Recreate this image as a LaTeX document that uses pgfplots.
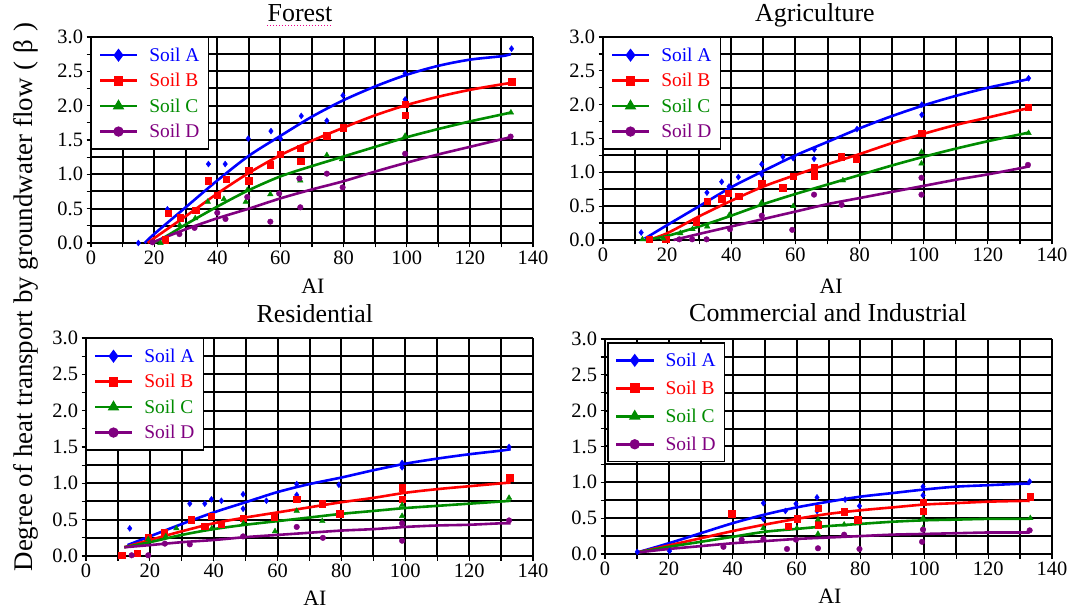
\documentclass[border=0pt]{standalone}
\usepackage{fontspec}
\setmainfont{Liberation Serif}
\usepackage{pgfplots}
\pgfplotsset{compat=1.18}

\definecolor{soilA}{RGB}{0,0,255}
\definecolor{soilB}{RGB}{255,0,0}
\definecolor{soilC}{RGB}{0,140,0}
\definecolor{soilD}{RGB}{128,0,128}

\newcommand{\soil}[2]{\textcolor{#1}{Soil #2}\hspace{12bp}}

\pgfplotsset{
  panel/.style={
    scale only axis, clip=false,
    xmin=0, xmax=140, ymin=0, ymax=3, enlargelimits=false,
    axis x line*=bottom, axis y line*=left,
    x axis line style={black,line width=2bp},
    y axis line style={black,line width=2.2bp},
    xtick={0,10,20,30,40,50,60,70,80,90,100,110,120,130},
    xticklabels={0,,20,,40,,60,,80,,100,,120,},
    extra x ticks={140},
    extra x tick labels={140},
    extra x tick style={grid style={gray!55,line width=1bp}},
    xmajorgrids=true, ymajorgrids=true,
    major grid style={black,line width=2bp},
    tick align=outside, major tick length=4.5bp,
    tick style={black,line width=1.2bp},
    /pgf/number format/assume math mode=true,
    ticklabel style={font=\fontsize{20.5}{24}\selectfont},
    title style={font=\fontsize{26}{30}\selectfont, anchor=base, inner sep=0pt, yshift=10bp},
    xlabel={AI},
    xlabel style={font=\fontsize{22}{26}\selectfont, anchor=base},
    legend cell align=left,
    legend style={at={(0,1)}, anchor=north west, draw=black, line width=1.4bp,
      fill=white, font=\fontsize{19.5}{23}\selectfont,
      inner xsep=7bp, inner ysep=8bp, row sep=6.5bp,
      /tikz/every odd column/.append style={column sep=9bp}},
    legend image code/.code={\draw[mark repeat=2,mark phase=2]
      plot coordinates {(0bp,0bp) (18.5bp,0bp) (37bp,0bp)};},
  },
  toprow/.style={panel,
    ytick={0,0.25,0.5,0.75,1,1.25,1.5,1.75,2,2.25,2.5,2.75,3},
    yticklabels={0.0,,0.5,,1.0,,1.5,,2.0,,2.5,,3.0}},
  bottomrow/.style={panel,
    ytick={0,0.25,0.5,0.75,1,1.25,1.5,1.75,2,2.25,2.5,2.75},
    yticklabels={0.0,,0.5,,1.0,,1.5,,2.0,,2.5,},
    extra y ticks={3}, extra y tick labels={3.0},
    extra y tick style={grid style={gray!55,line width=1bp}}},
  % fitted curves (marks only appear in the legend)
  fitA/.style={soilA, line width=2.6bp, smooth, mark=diamond*, mark size=4.5bp, mark phase=1000},
  fitB/.style={soilB, line width=2.6bp, smooth, mark=square*, mark size=3.6bp, mark phase=1000},
  fitC/.style={soilC, line width=2.6bp, smooth, mark=triangle*, mark size=4.2bp, mark phase=1000},
  fitD/.style={soilD, line width=2.6bp, smooth, mark=*, mark size=3.8bp, mark phase=1000},
  % measured values
  obsA/.style={forget plot, only marks, soilA, mark=diamond*, mark size=3bp},
  obsB/.style={forget plot, only marks, soilB, mark=square*, mark size=3.2bp},
  obsC/.style={forget plot, only marks, soilC, mark=triangle*, mark size=3.2bp},
  obsD/.style={forget plot, only marks, soilD, mark=*, mark size=2.8bp},
}

\begin{document}
\begin{tikzpicture}
\useasboundingbox (0bp,0bp) rectangle (1068bp,609bp);

% ---------------- Forest ----------------
\begin{axis}[toprow, at={(91bp,366bp)}, anchor=south west, width=442bp, height=206bp,
  title={Forest}, title style={at={(0.473,1)}, name=foresttitle},
  xlabel style={at={(0.502,0)}, yshift=-51bp}]
\addplot[fitA] coordinates {(17,0) (20,0.13) (30,0.52) (40,0.91) (50,1.27) (60,1.56) (70,1.84) (80,2.08) (90,2.28) (100,2.45) (110,2.58) (120,2.67) (130,2.72) (133,2.75)};
\addlegendentry{\soil{soilA}{A}}
\addplot[fitB] coordinates {(18,0) (20,0.07) (30,0.39) (40,0.72) (50,1.02) (60,1.28) (70,1.49) (80,1.68) (90,1.86) (100,2.01) (110,2.13) (120,2.23) (130,2.31) (133,2.33)};
\addlegendentry{\soil{soilB}{B}}
\addplot[fitC] coordinates {(20,0) (25,0.13) (30,0.27) (40,0.53) (50,0.77) (60,0.97) (70,1.12) (80,1.26) (90,1.40) (100,1.54) (110,1.66) (120,1.77) (130,1.87) (133,1.90)};
\addlegendentry{\soil{soilC}{C}}
\addplot[fitD] coordinates {(19,0) (30,0.20) (40,0.36) (50,0.50) (60,0.65) (70,0.78) (80,0.90) (90,1.04) (100,1.17) (110,1.29) (120,1.40) (130,1.51) (133,1.54)};
\addlegendentry{\soil{soilD}{D}}
\addplot[obsA] coordinates {(15,0) (24.2,0.49) (37.2,1.15) (42.5,1.15) (49.8,1.52) (57,1.63) (60,1.52) (66.6,1.85) (74.7,1.78) (79.8,2.15) (99.5,2.47) (99.5,2.09) (133.2,2.83)};
\addplot[obsB] coordinates {(23.5,0.05) (24.4,0.43) (28.3,0.37) (33.2,0.48) (37.2,0.91) (40,0.70) (42.8,0.93) (50,1.06) (50,0.91) (56.7,1.14) (60,1.29) (66.2,1.38) (66.4,1.19) (74.7,1.56) (79.8,1.68) (99.5,2.02) (99.5,1.86) (133.2,2.35)};
\addplot[obsC] coordinates {(22,0) (28.1,0.26) (33,0.36) (37,0.60) (42.1,0.64) (49,0.60) (49.5,0.77) (56.8,0.71) (66.3,0.91) (74.7,1.28) (79.5,1.22) (99.5,1.56) (133,1.90)};
\addplot[obsD] coordinates {(19.5,0.01) (28,0.13) (32.8,0.22) (40,0.44) (42.6,0.35) (49.5,0.67) (56.8,0.31) (59.6,0.72) (66.3,0.52) (66,0.94) (74.7,1.01) (79.7,0.81) (99.5,1.30) (132.9,1.55)};
\end{axis}
\draw[magenta, line width=1bp, dash pattern=on 1bp off 2bp]
  ([yshift=-4bp]foresttitle.base west) -- ([yshift=-4bp]foresttitle.base east);

% ---------------- Agriculture ----------------
\begin{axis}[toprow, at={(603bp,369bp)}, anchor=south west, width=449bp, height=203bp,
  title={Agriculture}, title style={at={(0.472,1)}},
  xlabel style={at={(0.508,0)}, yshift=-54bp}]
\addplot[fitA] coordinates {(13,0.02) (20,0.22) (30,0.50) (40,0.78) (50,1.02) (60,1.25) (70,1.45) (80,1.65) (90,1.83) (100,1.99) (110,2.13) (120,2.25) (130,2.35) (133,2.38)};
\addlegendentry{\soil{soilA}{A}}
\addplot[fitB] coordinates {(14,0) (20,0.10) (30,0.35) (40,0.58) (50,0.79) (60,0.96) (70,1.12) (80,1.27) (90,1.43) (100,1.57) (110,1.70) (120,1.81) (130,1.92) (133,1.95)};
\addlegendentry{\soil{soilB}{B}}
\addplot[fitC] coordinates {(13,0) (20,0.06) (30,0.20) (40,0.36) (50,0.53) (60,0.68) (70,0.82) (80,0.96) (90,1.10) (100,1.23) (110,1.35) (120,1.46) (130,1.56) (133,1.59)};
\addlegendentry{\soil{soilC}{C}}
\addplot[fitD] coordinates {(22,0) (30,0.09) (40,0.20) (50,0.31) (60,0.42) (70,0.53) (80,0.62) (90,0.71) (100,0.80) (110,0.89) (120,0.97) (130,1.06) (133,1.09)};
\addlegendentry{\soil{soilD}{D}}
\addplot[obsA] coordinates {(11.9,0.11) (32.4,0.70) (37,0.86) (39.3,0.79) (42.2,0.93) (49.5,1.12) (49.5,0.97) (56.1,1.23) (59.3,1.21) (65.8,1.20) (65.9,1.34) (79.2,1.64) (99.4,2.00) (99.4,1.85) (132.7,2.39)};
\addplot[obsB] coordinates {(14.4,0.01) (19.6,0.01) (29,0.27) (32.4,0.57) (37,0.61) (39.1,0.69) (42.3,0.65) (49.5,0.84) (56,0.77) (59.3,0.94) (65.8,1.07) (65.8,0.95) (74.2,1.23) (78.9,1.19) (99.4,1.58) (132.5,1.96)};
\addplot[obsC] coordinates {(12.3,0.01) (18.8,0.02) (24.1,0.10) (27.9,0.16) (32.5,0.20) (39.4,0.37) (49.4,0.55) (59.3,0.50) (74.8,0.88) (99.3,1.30) (99.3,1.13) (132.7,1.58)};
\addplot[obsD] coordinates {(23.8,0.01) (27.8,0.01) (32.3,0.01) (39.6,0.16) (49.5,0.36) (59,0.15) (65.8,0.67) (74.4,0.52) (99.3,0.92) (99.3,0.67) (132.5,1.11)};
\end{axis}

% ---------------- Residential ----------------
\begin{axis}[bottomrow, at={(86bp,53bp)}, anchor=south west, width=447bp, height=218bp,
  title={Residential}, title style={at={(0.512,1)}},
  xlabel style={at={(0.512,0)}, yshift=-49bp}]
\addplot[fitA] coordinates {(13,0.15) (20,0.27) (30,0.44) (40,0.60) (50,0.74) (60,0.88) (70,0.99) (80,1.08) (90,1.18) (100,1.27) (110,1.34) (120,1.40) (130,1.45) (133,1.47)};
\addlegendentry{\soil{soilA}{A}}
\addplot[fitB] coordinates {(12,0.12) (20,0.22) (30,0.34) (40,0.45) (50,0.53) (60,0.60) (70,0.67) (80,0.74) (90,0.80) (100,0.87) (110,0.92) (120,0.96) (130,1.00) (133,1.01)};
\addlegendentry{\soil{soilB}{B}}
\addplot[fitC] coordinates {(12,0.12) (20,0.19) (30,0.29) (40,0.37) (50,0.43) (60,0.48) (70,0.53) (80,0.58) (90,0.62) (100,0.66) (110,0.69) (120,0.72) (130,0.75) (133,0.76)};
\addlegendentry{\soil{soilC}{C}}
\addplot[fitD] coordinates {(12,0.12) (20,0.15) (30,0.19) (40,0.22) (50,0.26) (60,0.29) (70,0.32) (80,0.35) (90,0.37) (100,0.40) (110,0.42) (120,0.43) (130,0.45) (133,0.45)};
\addlegendentry{\soil{soilD}{D}}
\addplot[obsA] coordinates {(13.7,0.38) (32.5,0.72) (37.2,0.72) (39.3,0.78) (42.4,0.76) (49.2,0.85) (49.2,0.65) (56.5,0.76) (66,0.84) (66,0.99) (79.2,0.98) (99,1.28) (99,1.22) (132.5,1.50)};
\addplot[obsB] coordinates {(11.2,0.01) (16,0.04) (19.5,0.26) (24.4,0.33) (33,0.50) (37.2,0.41) (39.3,0.55) (42.4,0.44) (49.3,0.52) (59,0.54) (66,0.78) (74,0.72) (79.4,0.58) (99,0.94) (99,0.78) (132.7,1.08)};
\addplot[obsC] coordinates {(19.5,0.23) (25,0.27) (28.3,0.38) (39.4,0.38) (49.3,0.45) (59.2,0.34) (66,0.62) (74,0.48) (99,0.55) (99,0.70) (132.5,0.80)};
\addplot[obsD] coordinates {(14.3,0.01) (19.5,0.01) (24.7,0.17) (32.5,0.16) (49.2,0.27) (66,0.40) (74.2,0.25) (99,0.21) (99,0.45) (132.5,0.49)};
\end{axis}

% ---------------- Commercial and Industrial ----------------
\begin{axis}[bottomrow, at={(605bp,55bp)}, anchor=south west, width=447bp, height=215bp,
  title={Commercial and Industrial}, title style={at={(0.499,1)}, yshift=2bp},
  xlabel style={at={(0.503,0)}, yshift=-49bp},
  legend style={at={(0.005,0.985)}, row sep=9bp}]
\addplot[fitA] coordinates {(10,0.02) (20,0.15) (30,0.29) (40,0.43) (50,0.55) (60,0.65) (70,0.73) (80,0.80) (90,0.85) (100,0.90) (110,0.94) (120,0.96) (130,0.98) (133,0.98)};
\addlegendentry{\soil{soilA}{A}}
\addplot[fitB] coordinates {(10,0.02) (20,0.12) (30,0.22) (40,0.32) (50,0.41) (60,0.49) (70,0.56) (80,0.61) (90,0.65) (100,0.69) (110,0.71) (120,0.73) (130,0.74) (133,0.74)};
\addlegendentry{\soil{soilB}{B}}
\addplot[fitC] coordinates {(10,0.02) (20,0.10) (30,0.17) (40,0.24) (50,0.31) (60,0.35) (70,0.39) (80,0.42) (90,0.45) (100,0.47) (110,0.48) (120,0.49) (130,0.49) (133,0.49)};
\addlegendentry{\soil{soilC}{C}}
\addplot[fitD] coordinates {(10,0.02) (20,0.07) (30,0.11) (40,0.15) (50,0.18) (60,0.21) (70,0.23) (80,0.25) (90,0.27) (100,0.28) (110,0.29) (120,0.30) (130,0.30) (133,0.30)};
\addlegendentry{\soil{soilD}{D}}
\addplot[obsA] coordinates {(10.1,0.03) (20.2,0.04) (49.6,0.71) (49.6,0.49) (56.5,0.60) (59.8,0.70) (66.4,0.79) (66.4,0.60) (75.2,0.76) (79.7,0.67) (99.6,0.94) (99.6,0.82) (133,1.01)};
\addplot[obsB] coordinates {(39.7,0.56) (57.3,0.39) (60.1,0.49) (66.7,0.64) (66.7,0.41) (74.9,0.59) (79.2,0.48) (99.6,0.72) (99.6,0.60) (133.2,0.80)};
\addplot[obsC] coordinates {(49.6,0.36) (60.1,0.36) (66.7,0.48) (66.7,0.28) (74.9,0.41) (99.6,0.50) (99.6,0.36) (133.2,0.50)};
\addplot[obsD] coordinates {(37.1,0.10) (42.8,0.20) (49.6,0.21) (57,0.07) (59.8,0.20) (66.7,0.08) (74.9,0.27) (79.7,0.07) (99.3,0.17) (99.6,0.34) (133,0.33)};
\end{axis}

% shared y-axis title
\node[rotate=90, anchor=base, font=\fontsize{27}{32}\selectfont] at (32bp,312bp)
  {Degree of heat transport by groundwater flow\hspace{0.3em}(\hspace{0.3em}β\hspace{0.3em})};
\end{tikzpicture}
\end{document}
